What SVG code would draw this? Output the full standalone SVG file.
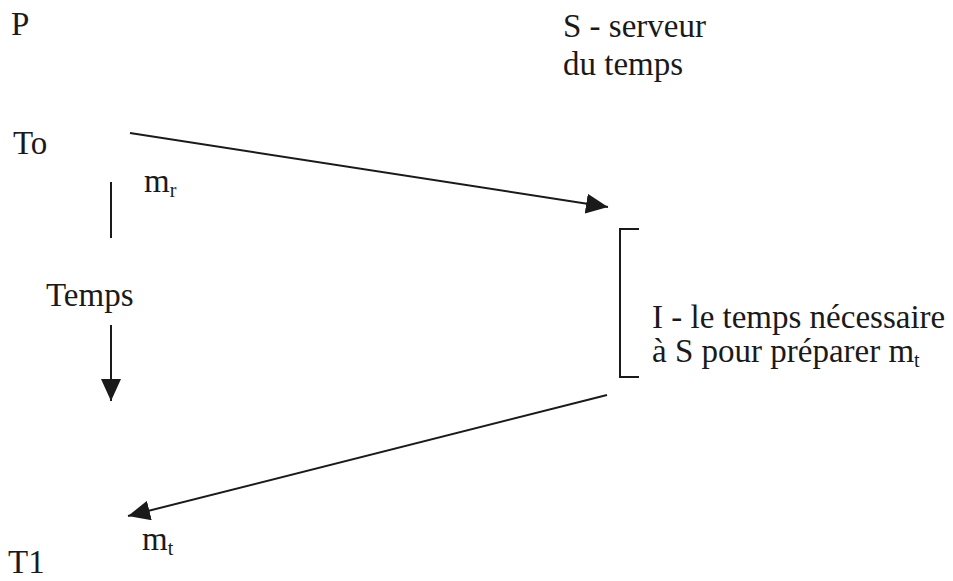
<svg xmlns="http://www.w3.org/2000/svg" width="953" height="581" viewBox="0 0 953 581">
  <style>
    .t { font-family: "Liberation Serif", "Times New Roman", serif; font-size: 33px; fill: #1a1a1a; }
    .sub { font-size: 20px; }
    .ln { stroke: #1a1a1a; stroke-width: 2; fill: none; }
  </style>
  <defs>
    <marker id="head" viewBox="0 0 22 20" refX="22" refY="10" markerWidth="22" markerHeight="20" markerUnits="userSpaceOnUse" orient="auto">
      <path d="M0,0 L22,10 L0,20 Z" fill="#1a1a1a"/>
    </marker>
  </defs>
  <rect width="953" height="581" fill="#ffffff"/>

  <!-- process P, left column -->
  <g id="process-p">
    <text class="t" x="11" y="35">P</text>
    <text class="t" x="13" y="154">To</text>
    <text class="t" x="8" y="573">T1</text>
  </g>

  <!-- time server S -->
  <g id="server-s">
    <text class="t" x="563" y="37">S - serveur</text>
    <text class="t" x="563" y="75">du temps</text>
  </g>

  <!-- time axis -->
  <g id="time-axis">
    <text class="t" x="46" y="306">Temps</text>
  </g>

  <!-- processing interval on S -->
  <g id="interval">
    <path class="ln" d="M639,229 H620 V377 H639"/>
    <text class="t" x="652" y="328">I - le temps nécessaire</text>
    <text class="t" x="652" y="362">à S pour préparer m<tspan class="sub" dy="5">t</tspan></text>
  </g>

  <!-- message labels -->
  <g id="labels">
    <text class="t" x="144" y="192">m<tspan class="sub" dy="5">r</tspan></text>
    <text class="t" x="142" y="550">m<tspan class="sub" dy="5">t</tspan></text>
  </g>

  <g id="connectors">
    <line class="ln" x1="111" y1="182" x2="111" y2="238"/>
    <line class="ln" x1="111" y1="325" x2="111" y2="401" marker-end="url(#head)"/>
    <line class="ln" x1="130" y1="133" x2="608" y2="207" marker-end="url(#head)"/>
    <line class="ln" x1="607" y1="395" x2="128" y2="516" marker-end="url(#head)"/>
  </g>
</svg>
